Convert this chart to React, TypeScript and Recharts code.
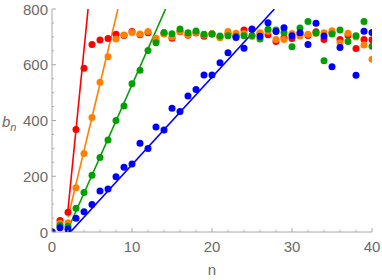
import React from 'react';
import { ComposedChart, Scatter, Line, XAxis, YAxis } from 'recharts';

const nValues = [0, 1, 2, 3, 4, 5, 6, 7, 8, 9, 10, 11, 12, 13, 14, 15, 16, 17, 18, 19, 20, 21, 22, 23, 24, 25, 26, 27, 28, 29, 30, 31, 32, 33, 34, 35, 36, 37, 38, 39, 40];

const redValues = [0, 41, 71, 368, 587, 673, 689, 694, 709, 705, 719, 708, 715, 686, 712, 695, 718, 706, 714, 702, 710, 700, 712, 705, 725, 728, 712, 708, 683, 697, 694, 710, 705, 718, 691, 715, 691, 705, 658, 691, 690];
const orangeValues = [0, 31, 33, 159, 282, 411, 537, 629, 692, 707, 716, 710, 719, 695, 710, 700, 719, 707, 716, 707, 712, 697, 719, 713, 712, 701, 715, 720, 691, 691, 712, 703, 709, 712, 715, 722, 679, 713, 700, 671, 620];
const greenValues = [0, 23, 21, 85, 142, 204, 267, 330, 400, 452, 532, 580, 651, 679, 716, 711, 728, 715, 721, 709, 710, 703, 704, 702, 704, 705, 692, 727, 725, 716, 665, 732, 755, 715, 614, 710, 725, 683, 704, 755, 666];
const blueValues = [0, 15, 10, 49, 73, 99, 147, 154, 198, 232, 244, 318, 300, 377, 366, 444, 432, 488, 511, 563, 563, 607, 643, 698, 659, 727, 702, 751, 719, 733, 704, 715, 673, 749, 703, 593, 662, null, 562, 720, 716];

// fitted straight lines: [start, end] in n and b_n
const redFitN = [2, 4.51];
const redFitV = [80, 800];
const orangeFitN = [2, 8.24];
const orangeFitV = [52, 800];
const greenFitN = [2, 14.2];
const greenFitV = [10, 800];
const blueFitN = [2.3, 27.8];
const blueFitV = [0, 800];

const xTicks = [0, 2, 4, 6, 8, 10, 12, 14, 16, 18, 20, 22, 24, 26, 28, 30, 32, 34, 36, 38, 40];
const xMajor = [0, 10, 20, 30, 40];
const yTicks = [0, 50, 100, 150, 200, 250, 300, 350, 400, 450, 500, 550, 600, 650, 700, 750, 800];
const yMajor = [0, 200, 400, 600, 800];

const RED = '#ff0000';
const ORANGE = '#ff8000';
const GREEN = '#00a000';
const BLUE = '#0000ff';
const FRAME = '#a8a8a8';
const TEXT = '#6a6a6a';
const FONT = '"Liberation Sans", Arial, sans-serif';

const toPoints = (vals: (number | null)[]) =>
  nValues.map((n, i) => ({ n, v: vals[i] })).filter((p) => p.v !== null);
const toLine = (ns: number[], vs: number[]) => ns.map((n, i) => ({ n, v: vs[i] }));

const dot = (color: string) => (p: any) => <circle cx={p.cx} cy={p.cy} r={3.5} fill={color} />;

const BottomTick = (p: any) => {
  const major = xMajor.includes(p.payload.value);
  return (
    <g>
      <line x1={p.x} x2={p.x} y1={p.y} y2={p.y - (major ? 4 : 2)} stroke={FRAME} />
      {major && (
        <text x={p.x} y={p.y + 14} textAnchor="middle" dominantBaseline="central" fill={TEXT} fontSize={15} fontFamily={FONT}>
          {p.payload.value}
        </text>
      )}
    </g>
  );
};
const TopTick = (p: any) => {
  const major = xMajor.includes(p.payload.value);
  return <line x1={p.x} x2={p.x} y1={p.y} y2={p.y + (major ? 4 : 2)} stroke={FRAME} />;
};
const LeftTick = (p: any) => {
  const major = yMajor.includes(p.payload.value);
  return (
    <g>
      <line x1={p.x} x2={p.x + (major ? 4 : 2)} y1={p.y} y2={p.y} stroke={FRAME} />
      {major && (
        <text x={p.x - 4} y={p.y} textAnchor="end" dominantBaseline="central" fill={TEXT} fontSize={15} fontFamily={FONT}>
          {p.payload.value}
        </text>
      )}
    </g>
  );
};
const RightTick = (p: any) => {
  const major = yMajor.includes(p.payload.value);
  return <line x1={p.x} x2={p.x - (major ? 4 : 2)} y1={p.y} y2={p.y} stroke={FRAME} />;
};

export default function App() {
  return (
    <div style={{ position: 'absolute', left: 0, top: 0, width: 382, height: 280, background: '#fff' }}>
      <ComposedChart width={382} height={280} margin={{ top: 9, right: 10, bottom: 0, left: 0 }}>
        <XAxis xAxisId="b" dataKey="n" type="number" domain={[0, 40]} ticks={xTicks} interval={0} allowDataOverflow
          orientation="bottom" height={48} tickSize={0} tickMargin={0} tickLine={false} tick={BottomTick}
          axisLine={{ stroke: FRAME }} />
        <XAxis xAxisId="t" dataKey="n" type="number" domain={[0, 40]} ticks={xTicks} interval={0} allowDataOverflow
          orientation="top" height={0} tickSize={0} tickMargin={0} tickLine={false} tick={TopTick}
          axisLine={{ stroke: FRAME }} />
        <YAxis yAxisId="l" dataKey="v" type="number" domain={[0, 800]} ticks={yTicks} interval={0} allowDataOverflow
          orientation="left" width={52} tickSize={0} tickMargin={0} tickLine={false} tick={LeftTick}
          axisLine={{ stroke: FRAME }} />
        <YAxis yAxisId="r" dataKey="v" type="number" domain={[0, 800]} ticks={yTicks} interval={0} allowDataOverflow
          orientation="right" width={0} tickSize={0} tickMargin={0} tickLine={false} tick={RightTick}
          axisLine={{ stroke: FRAME }} />
        <Scatter xAxisId="b" yAxisId="l" data={toPoints(redValues)} dataKey="v" fill={RED} shape={dot(RED)} isAnimationActive={false} />
        <Scatter xAxisId="b" yAxisId="l" data={toPoints(orangeValues)} dataKey="v" fill={ORANGE} shape={dot(ORANGE)} isAnimationActive={false} />
        <Scatter xAxisId="b" yAxisId="l" data={toPoints(greenValues)} dataKey="v" fill={GREEN} shape={dot(GREEN)} isAnimationActive={false} />
        <Scatter xAxisId="b" yAxisId="l" data={toPoints(blueValues)} dataKey="v" fill={BLUE} shape={dot(BLUE)} isAnimationActive={false} />
        <Line xAxisId="b" yAxisId="l" data={toLine(redFitN, redFitV)} dataKey="v" stroke={RED} strokeWidth={1.6} dot={false} activeDot={false} isAnimationActive={false} />
        <Line xAxisId="b" yAxisId="l" data={toLine(orangeFitN, orangeFitV)} dataKey="v" stroke={ORANGE} strokeWidth={1.6} dot={false} activeDot={false} isAnimationActive={false} />
        <Line xAxisId="b" yAxisId="l" data={toLine(greenFitN, greenFitV)} dataKey="v" stroke={GREEN} strokeWidth={1.6} dot={false} activeDot={false} isAnimationActive={false} />
        <Line xAxisId="b" yAxisId="l" data={toLine(blueFitN, blueFitV)} dataKey="v" stroke={BLUE} strokeWidth={1.6} dot={false} activeDot={false} isAnimationActive={false} />
      </ComposedChart>
      <div style={{ position: 'absolute', left: 2, top: 113, fontFamily: FONT, fontSize: 15, color: TEXT, fontStyle: 'italic', lineHeight: '18px' }}>
        b<sub style={{ fontSize: 11, verticalAlign: 'baseline', position: 'relative', top: 4 }}>n</sub>
      </div>
      <div style={{ position: 'absolute', left: 202, top: 261, width: 20, textAlign: 'center', fontFamily: FONT, fontSize: 15, color: TEXT, lineHeight: '18px' }}>
        n
      </div>
    </div>
  );
}
